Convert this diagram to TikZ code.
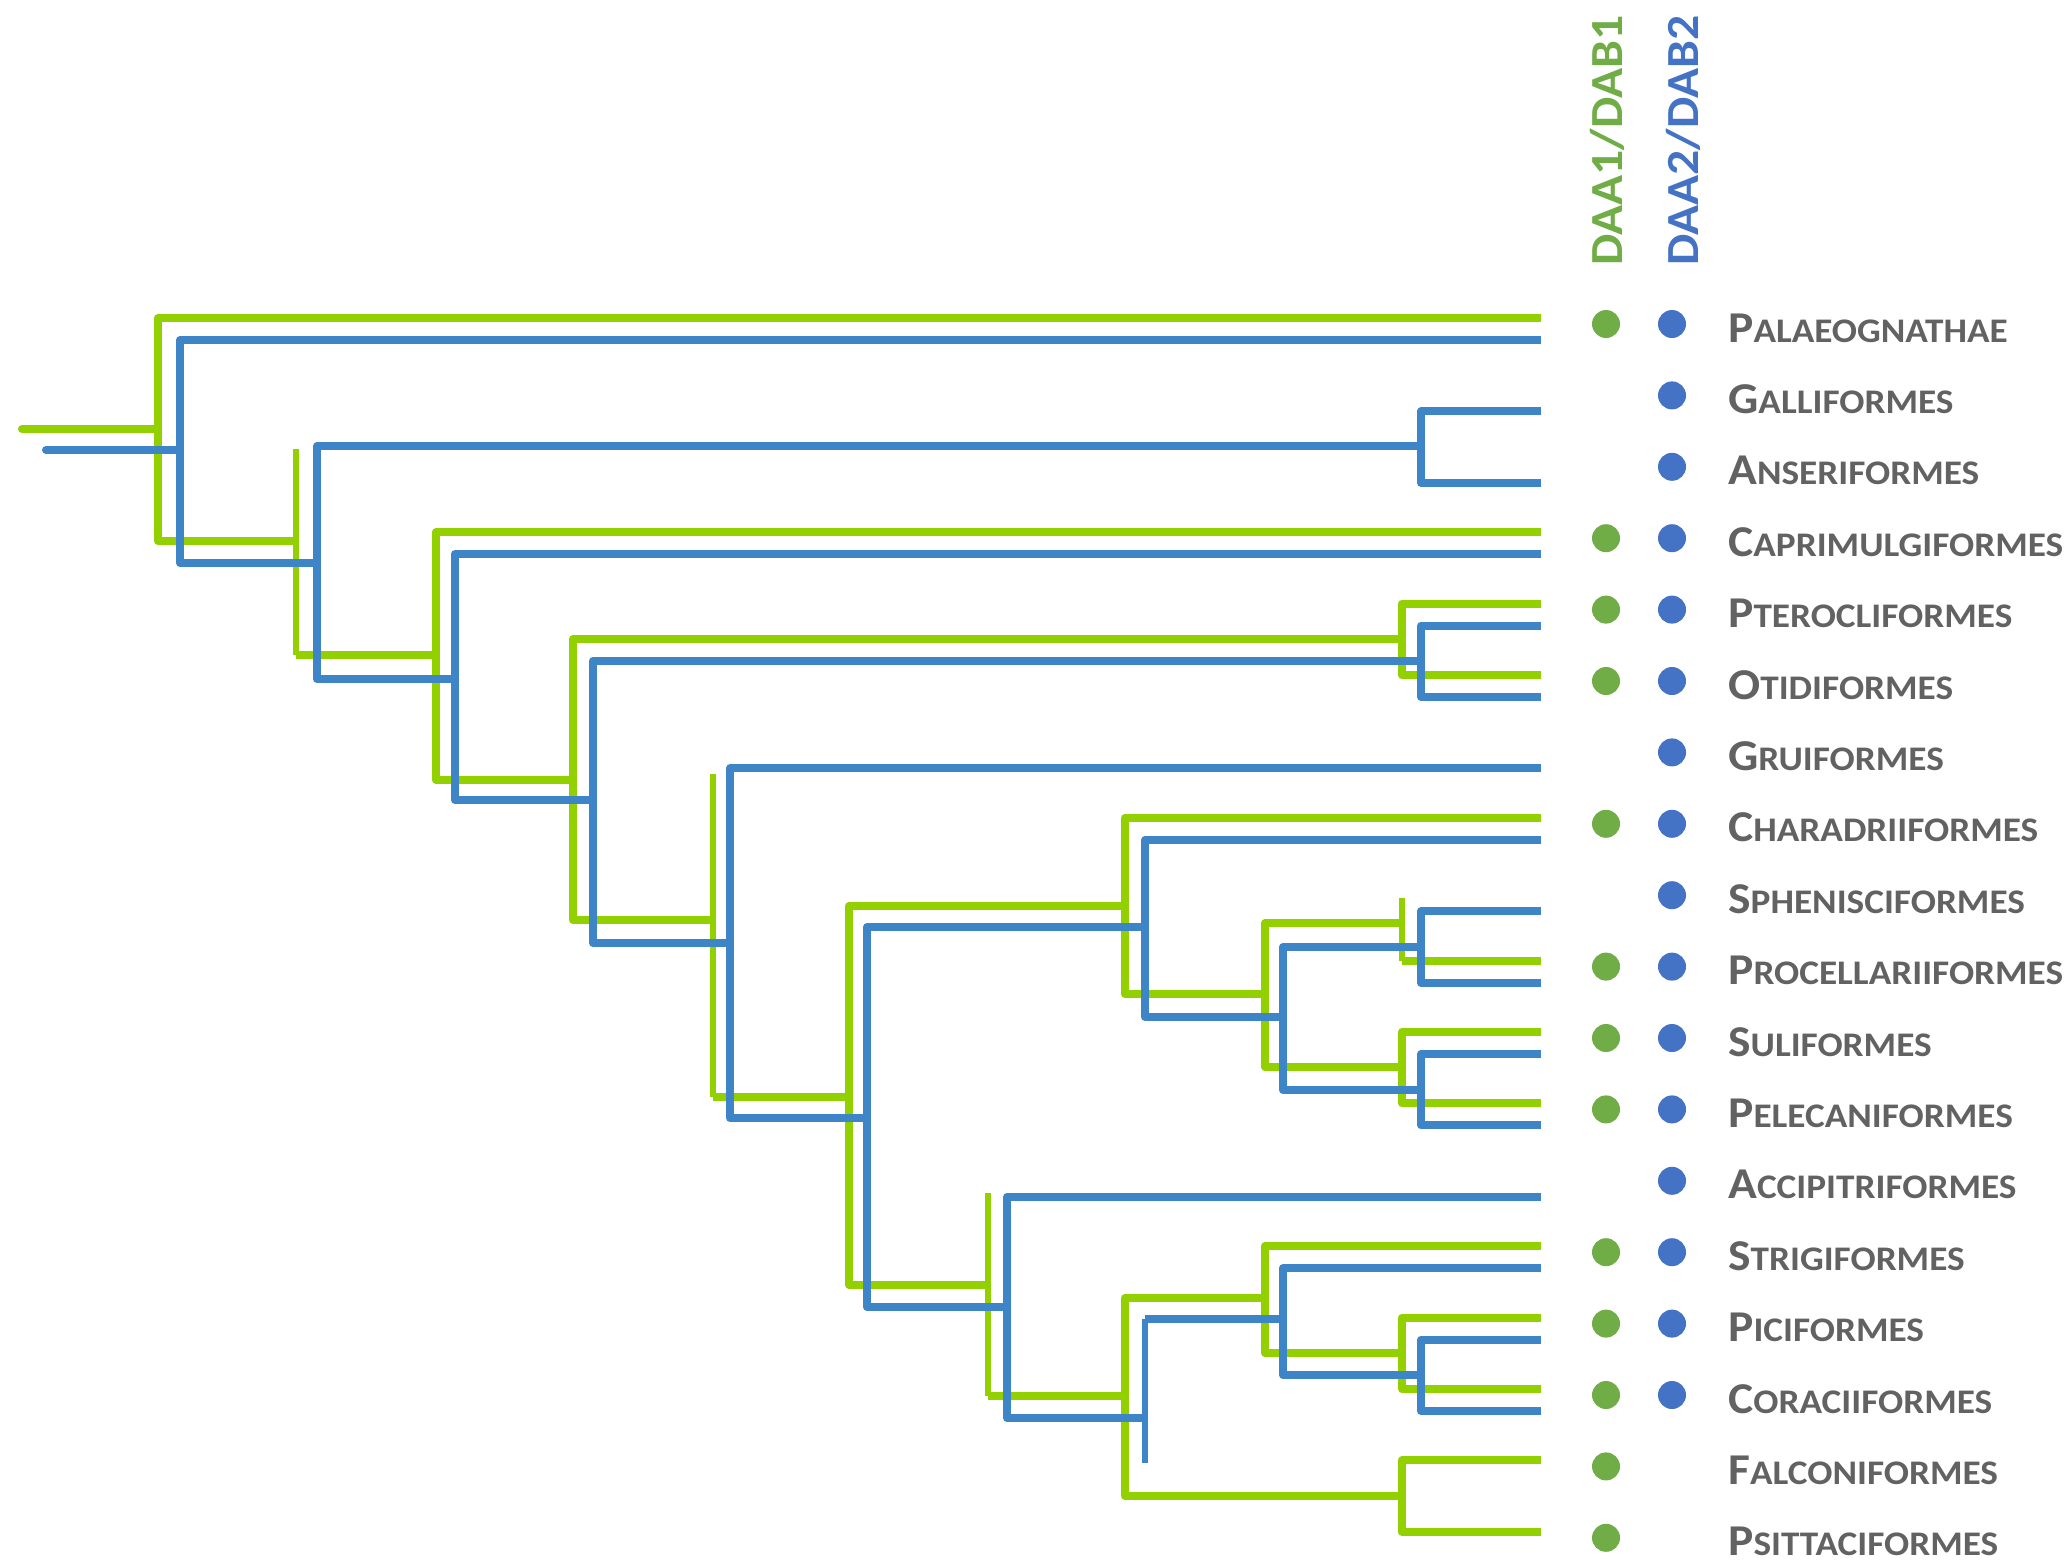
\documentclass[tikz,border=0pt]{standalone}
\usepackage{fontspec}
\setmainfont[FakeStretch=1.08]{Carlito}
\definecolor{lgreen}{RGB}{146,208,0}
\definecolor{lblue}{RGB}{61,133,198}
\definecolor{dgreen}{RGB}{112,173,71}
\definecolor{dblue}{RGB}{68,114,196}
\definecolor{tgray}{RGB}{98,98,98}
\newcommand{\mysmcap}[2]{{\fontsize{44}{44}\selectfont #1}{\fontsize{34.5}{34.5}\selectfont #2}}
\tikzset{
  gl/.style={draw=lgreen, line width=8pt, line join=round},
  bl/.style={draw=lblue, line width=8pt, line join=round},
  gthin/.style={draw=lgreen, line width=5.5pt},
  bthin/.style={draw=lblue, line width=5.5pt},
  gdot/.style={circle, fill=dgreen, minimum size=28pt, inner sep=0pt},
  bdot/.style={circle, fill=dblue, minimum size=28pt, inner sep=0pt},
  lab/.style={anchor=base west, inner sep=0pt, text=tgray, font=\bfseries},
  hdr/.style={anchor=base west, inner sep=0pt, rotate=90, font=\bfseries\fontsize{46}{46}\selectfont},
}
\begin{document}
\begin{tikzpicture}[x=1pt,y=-1pt]
\useasboundingbox (0,0) rectangle (2070,1566);
% rows
\foreach \i in {0,...,17}{
  \coordinate (gL\i) at (1541,{329+71.4*\i-11});
  \coordinate (bL\i) at (1541,{329+71.4*\i+11});
}
% green internal nodes
\coordinate (g0) at (22,429);
\coordinate (G1) at (158,429);
\coordinate (G2) at (296,541);
\coordinate (gS2) at (296,449);
\coordinate (G3) at (436,655);
\coordinate (G4) at (573,780);
\coordinate (Gpo) at (1402,639);
\coordinate (G5) at (713,920);
\coordinate (gS5) at (713,774);
\coordinate (G6) at (849,1097);
\coordinate (G7) at (1125,906);
\coordinate (G8) at (1265,994);
\coordinate (G9) at (1402,923);
\coordinate (gS9) at (1402,898);
\coordinate (G10) at (1402,1067);
\coordinate (G11) at (988,1285);
\coordinate (gS11) at (988,1193);
\coordinate (G12) at (1125,1396);
\coordinate (G13) at (1265,1298);
\coordinate (G14) at (1402,1353);
\coordinate (G15) at (1402,1496);
% blue internal nodes
\coordinate (b0) at (46,450);
\coordinate (B1) at (180,450);
\coordinate (B2) at (317,563);
\coordinate (Bga) at (1421,446);
\coordinate (B3) at (455,679);
\coordinate (B4) at (593,800);
\coordinate (Bpo) at (1421,661);
\coordinate (B5) at (730,943);
\coordinate (B6) at (867,1118);
\coordinate (B7) at (1145,927);
\coordinate (B8) at (1283,1017);
\coordinate (B9) at (1421,947);
\coordinate (B10) at (1421,1090);
\coordinate (B11) at (1007,1307);
\coordinate (B12) at (1145,1418);
\coordinate (bS12) at (1145,1463);
\coordinate (B13) at (1283,1319);
\coordinate (B14) at (1421,1375);
% green tree
\draw[gl, line cap=round] (g0) -- (G1);
\draw[gl] (gL0) -- (G1 |- gL0) -- (G1 |- G2) -- (G2);
\draw[gthin] (gS2) -- (G2 |- G3);
\draw[gl] (G2 |- G3) -- (G3);
\draw[gl] (gL3) -- (G3 |- gL3) -- (G3 |- G4) -- (G4);
\draw[gl] (Gpo) -- (G4 |- Gpo) -- (G4 |- G5) -- (G5);
\draw[gl] (gL4) -- (Gpo |- gL4) -- (Gpo |- gL5) -- (gL5);
\draw[gthin] (gS5) -- (G5 |- G6);
\draw[gl] (G5 |- G6) -- (G6);
\draw[gl] (G7) -- (G6 |- G7) -- (G6 |- G11) -- (G11);
\draw[gl] (gL7) -- (G7 |- gL7) -- (G7 |- G8) -- (G8);
\draw[gl] (G9) -- (G8 |- G9) -- (G8 |- G10) -- (G10);
\draw[gthin] (gS9) -- (G9 |- gL9);
\draw[gl] (G9 |- gL9) -- (gL9);
\draw[gl] (gL10) -- (G10 |- gL10) -- (G10 |- gL11) -- (gL11);
\draw[gthin] (gS11) -- (G11 |- G12);
\draw[gl] (G11 |- G12) -- (G12);
\draw[gl] (G13) -- (G12 |- G13) -- (G12 |- G15) -- (G15);
\draw[gl] (gL13) -- (G13 |- gL13) -- (G13 |- G14) -- (G14);
\draw[gl] (gL14) -- (G14 |- gL14) -- (G14 |- gL15) -- (gL15);
\draw[gl] (gL16) -- (G15 |- gL16) -- (G15 |- gL17) -- (gL17);
% blue tree
\draw[bl, line cap=round] (b0) -- (B1);
\draw[bl] (bL0) -- (B1 |- bL0) -- (B1 |- B2) -- (B2);
\draw[bl] (Bga) -- (B2 |- Bga) -- (B2 |- B3) -- (B3);
\draw[bl] (bL1) -- (Bga |- bL1) -- (Bga |- bL2) -- (bL2);
\draw[bl] (bL3) -- (B3 |- bL3) -- (B3 |- B4) -- (B4);
\draw[bl] (Bpo) -- (B4 |- Bpo) -- (B4 |- B5) -- (B5);
\draw[bl] (bL4) -- (Bpo |- bL4) -- (Bpo |- bL5) -- (bL5);
\draw[bl] (bL6) -- (B5 |- bL6) -- (B5 |- B6) -- (B6);
\draw[bl] (B7) -- (B6 |- B7) -- (B6 |- B11) -- (B11);
\draw[bl] (bL7) -- (B7 |- bL7) -- (B7 |- B8) -- (B8);
\draw[bl] (B9) -- (B8 |- B9) -- (B8 |- B10) -- (B10);
\draw[bl] (bL8) -- (B9 |- bL8) -- (B9 |- bL9) -- (bL9);
\draw[bl] (bL10) -- (B10 |- bL10) -- (B10 |- bL11) -- (bL11);
\draw[bl] (bL12) -- (B11 |- bL12) -- (B11 |- B12) -- (B12);
\draw[bl] (B13) -- (B12 |- B13);
\draw[bthin] (B12 |- B13) -- (bS12);
\draw[bl] (bL13) -- (B13 |- bL13) -- (B13 |- B14) -- (B14);
\draw[bl] (bL14) -- (B14 |- bL14) -- (B14 |- bL15) -- (bL15);
% headers
\node[hdr, text=dgreen] (h1) at (1622,266) {DAA1/DAB1};
\node[hdr, text=dblue] (h2) at (1698,266) {DAA2/DAB2};
% dots
\foreach \i in {0,3,4,5,7,9,10,11,13,14,15,16,17}{
  \node[gdot] (gd\i) at (1606,{329+71.4*\i-5}) {};
}
\foreach \i in {0,...,15}{
  \node[bdot] (bd\i) at (1672,{329+71.4*\i-5}) {};
}
% labels
\foreach \i/\a/\b in {0/P/ALAEOGNATHAE,1/G/ALLIFORMES,2/A/NSERIFORMES,3/C/APRIMULGIFORMES,
  4/P/TEROCLIFORMES,5/O/TIDIFORMES,6/G/RUIFORMES,7/C/HARADRIIFORMES,8/S/PHENISCIFORMES,
  9/P/ROCELLARIIFORMES,10/S/ULIFORMES,11/P/ELECANIFORMES,12/A/CCIPITRIFORMES,13/S/TRIGIFORMES,
  14/P/ICIFORMES,15/C/ORACIIFORMES,16/F/ALCONIFORMES,17/P/SITTACIFORMES}{
  \node[lab] (lab\i) at (1728,{329+71.4*\i+13}) {\mysmcap{\a}{\b}};
}
\end{tikzpicture}
\end{document}
